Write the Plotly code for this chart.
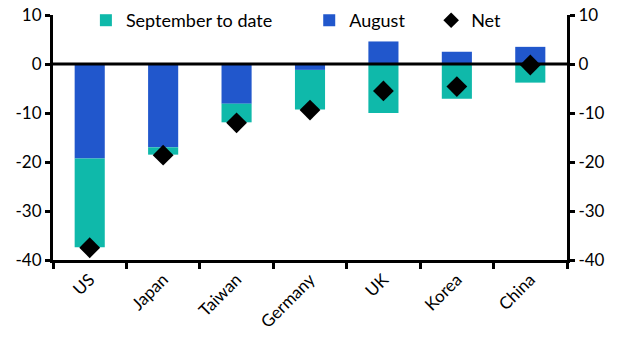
import plotly.graph_objects as go

categories = ["US", "Japan", "Taiwan", "Germany", "UK", "Korea", "China"]
august = [-19.3, -17.0, -8.1, -1.2, 4.6, 2.5, 3.5]
september = [-18.1, -1.5, -3.8, -8.1, -10.0, -7.1, -3.8]
net = [-37.5, -18.6, -12.0, -9.4, -5.5, -4.6, -0.2]
yticks = [10, 0, -10, -20, -30, -40]
yticklabels = ["10", "0", "-10", "-20", "-30", "-40"]

TEAL = "#0FB9AA"
BLUE = "#2157CC"
FONT = "Lato"

fig = go.Figure()
fig.add_trace(go.Bar(x=categories, y=august, name="August", marker_color=BLUE,
                     marker_line_width=0, legend="legend2"))
fig.add_trace(go.Bar(x=categories, y=september, name="September to date", marker_color=TEAL,
                     marker_line_width=0, legend="legend"))
fig.add_trace(go.Scatter(x=categories, y=net, name="Net", mode="markers",
                         marker=dict(symbol="diamond", size=16, color="black"),
                         legend="legend3"))
fig.add_trace(go.Scatter(x=categories, y=net, yaxis="y2", mode="markers",
                         marker=dict(opacity=0), showlegend=False, hoverinfo="skip"))

axis_common = dict(range=[-40, 10], tickvals=yticks, ticktext=yticklabels,
                   showgrid=False, zeroline=False, showline=True, linecolor="black",
                   linewidth=3, ticks="outside", ticklen=5, tickwidth=3,
                   tickcolor="black", automargin=False, ticklabeloverflow="allow",
                   tickfont=dict(size=17, color="black", family=FONT))

legend_common = dict(orientation="h", yanchor="top", xanchor="left", y=1.053,
                     bgcolor="rgba(0,0,0,0)", itemwidth=30, itemsizing="constant",
                     font=dict(size=18, color="black", family=FONT))

fig.update_layout(
    width=625, height=355,
    margin=dict(l=52.5, r=58, t=15, b=95, autoexpand=False),
    plot_bgcolor="white", paper_bgcolor="white",
    barmode="relative", bargap=0.59,
    font=dict(family=FONT, color="black"),
    xaxis=dict(showgrid=False, showline=True, linecolor="black", linewidth=3,
               ticks="outside", ticklen=6, tickwidth=3, tickcolor="black",
               tickson="boundaries", tickangle=-45, automargin=False,
               ticklabeloverflow="allow",
               tickfont=dict(size=17, color="black", family=FONT)),
    yaxis=dict(**axis_common, side="left"),
    yaxis2=dict(**axis_common, side="right", overlaying="y"),
    legend=dict(**legend_common, x=0.064),
    legend2=dict(**legend_common, x=0.4985),
    legend3=dict(**legend_common, x=0.7357),
    showlegend=True,
)
fig.add_shape(type="line", xref="paper", x0=0, x1=1, yref="y", y0=0, y1=0,
              line=dict(color="black", width=3), layer="above")

fig.write_html("out.html", config={"displayModeBar": False},
               post_script="document.body.style.margin='0';document.body.style.overflow='hidden';")
